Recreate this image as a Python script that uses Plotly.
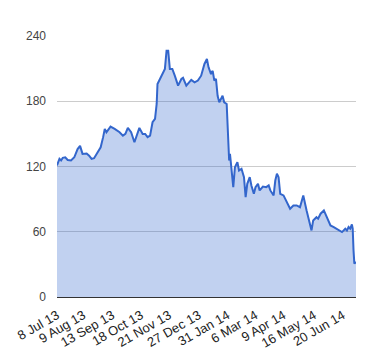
import plotly.graph_objects as go

dates = [
    "2013-07-08", "2013-07-11", "2013-07-13", "2013-07-15", "2013-07-18", "2013-07-21",
    "2013-07-25", "2013-07-29", "2013-08-02", "2013-08-05", "2013-08-08", "2013-08-13",
    "2013-08-16", "2013-08-19", "2013-08-22", "2013-08-26", "2013-08-30", "2013-09-02",
    "2013-09-04", "2013-09-06", "2013-09-11", "2013-09-16", "2013-09-22", "2013-09-26",
    "2013-09-29", "2013-10-02", "2013-10-06", "2013-10-10", "2013-10-13", "2013-10-16",
    "2013-10-20", "2013-10-23", "2013-10-26", "2013-10-29", "2013-11-01", "2013-11-04",
    "2013-11-06", "2013-11-07", "2013-11-10", "2013-11-12", "2013-11-14", "2013-11-16",
    "2013-11-18", "2013-11-20", "2013-11-22", "2013-11-25", "2013-11-28", "2013-12-02",
    "2013-12-06", "2013-12-08", "2013-12-12", "2013-12-16", "2013-12-18", "2013-12-22",
    "2013-12-26", "2013-12-30", "2014-01-03", "2014-01-06", "2014-01-08", "2014-01-11",
    "2014-01-13", "2014-01-15", "2014-01-17", "2014-01-19", "2014-01-21", "2014-01-25",
    "2014-01-27", "2014-01-30", "2014-02-01", "2014-02-02", "2014-02-03", "2014-02-05",
    "2014-02-07", "2014-02-09", "2014-02-12", "2014-02-14", "2014-02-17", "2014-02-20",
    "2014-02-22", "2014-02-24", "2014-02-27", "2014-03-01", "2014-03-04", "2014-03-06",
    "2014-03-09", "2014-03-11", "2014-03-15", "2014-03-19", "2014-03-22", "2014-03-24",
    "2014-03-28", "2014-03-30", "2014-04-01", "2014-04-03", "2014-04-05", "2014-04-09",
    "2014-04-13", "2014-04-17", "2014-04-21", "2014-04-25", "2014-04-29", "2014-05-03",
    "2014-05-07", "2014-05-10", "2014-05-13", "2014-05-15", "2014-05-19", "2014-05-21",
    "2014-05-24", "2014-05-28", "2014-06-01", "2014-06-05", "2014-06-09", "2014-06-15",
    "2014-06-19", "2014-06-23", "2014-06-25", "2014-06-27", "2014-06-29", "2014-07-01",
    "2014-07-02", "2014-07-03", "2014-07-04", "2014-07-06",
]

values = [
    121, 127, 125.5, 128, 128.5, 126,
    125.5, 128.5, 136, 139, 131.6, 132,
    130, 127, 127.6, 133, 137.7, 147,
    154.6, 151.5, 156.7, 154.6, 151.5, 148.4,
    150, 155.5, 151.5, 142.3, 150, 155.5,
    150, 150, 147, 148.4, 160.7, 163.8,
    177.5, 195.9, 200.5, 203.5, 208, 209.7,
    226.5, 226.5, 209.7, 209.7, 203.5, 194.4,
    200.5, 201.5, 194.4, 197.4, 199.6, 197.4,
    199, 203.5, 214.3, 218.9, 211.2, 205,
    208, 199, 200.5, 185, 179, 185,
    179, 177.5, 134.7, 125.5, 131.6, 116.3,
    101, 119.4, 124, 116.3, 117.9, 110.2,
    91.8, 104.1, 110.2, 102.6, 94.9, 101,
    104.1, 98, 101.6, 101, 102.6, 98,
    93.4, 107.1, 113.3, 110.2, 94.9, 93.4,
    87.2, 81.2, 84.2, 84.2, 82.6, 93.4,
    79.6, 68.9, 61.2, 70.4, 73.4, 72,
    76.6, 79.6, 73.4, 65.8, 64.3, 61.2,
    59.7, 62.8, 61.2, 64.3, 62.8, 66.7,
    62.8, 42.9, 30.7, 32.1,
]

tick_dates = ["2013-07-08", "2013-08-09", "2013-09-13", "2013-10-18", "2013-11-21",
              "2013-12-27", "2014-01-31", "2014-03-06", "2014-04-09", "2014-05-16",
              "2014-06-20"]
tick_labels = ["8 Jul 13", "9 Aug 13", "13 Sep 13", "18 Oct 13", "21 Nov 13",
               "27 Dec 13", "31 Jan 14", "6 Mar 14", "9 Apr 14", "16 May 14",
               "20 Jun 14"]
y_ticks = [0, 60, 120, 180, 240]

fig = go.Figure()
fig.add_trace(go.Scatter(
    x=dates, y=values, mode="lines",
    line=dict(color="#3366cc", width=2),
    fill="tozeroy", fillcolor="rgba(51,102,204,0.3)",
    hoverinfo="skip",
))

fig.update_layout(
    width=380, height=360,
    margin=dict(l=57, r=24, t=36, b=63),
    paper_bgcolor="white", plot_bgcolor="white",
    showlegend=False,
    font=dict(family="Liberation Sans, Arial, sans-serif", size=12, color="#444444"),
)
fig.update_xaxes(
    type="date", automargin=False,
    range=[dates[0], dates[-1]],
    tickmode="array", tickvals=tick_dates, ticktext=tick_labels,
    tickangle=-30, showgrid=False, zeroline=False,
    showline=True, linecolor="#333333", linewidth=1,
    ticks="", ticklabelstandoff=5,
    tickfont=dict(size=13, color="#222222"),
)
fig.update_yaxes(
    automargin=False,
    range=[0, 240], tickmode="array", tickvals=y_ticks,
    showgrid=True, gridcolor="#cccccc", gridwidth=1,
    zeroline=False, showline=False, ticks="",
    ticklabelstandoff=10,
    tickfont=dict(size=12, color="#444444"),
)

fig.write_html("out.html", config={"displayModeBar": False})

with open("out.html", "r", encoding="utf-8") as f:
    html = f.read()
html = html.replace("<head>", "<head><style>html,body{margin:0;padding:0;overflow:hidden;}</style>", 1)
with open("out.html", "w", encoding="utf-8") as f:
    f.write(html)
